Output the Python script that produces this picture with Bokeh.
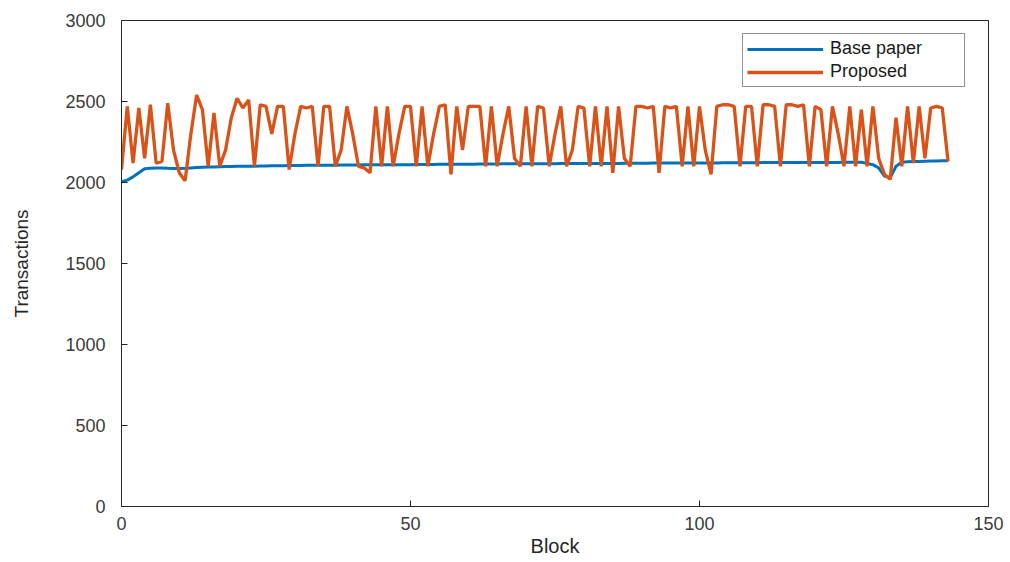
from bokeh.plotting import figure
from bokeh.models import Range1d, FixedTicker, Legend, LegendItem
from bokeh.embed import file_html
from bokeh.resources import INLINE

blocks = list(range(144))

base_paper = [
    2005, 2015, 2035, 2060, 2085, 2088, 2090, 2090, 2088, 2087,
    2087, 2088, 2090, 2092, 2094, 2095, 2096, 2097, 2098, 2099,
    2100, 2100, 2101, 2101, 2102, 2102, 2103, 2103, 2104, 2105,
    2105, 2105, 2106, 2106, 2106, 2107, 2107, 2107, 2108, 2108,
    2108, 2108, 2109, 2109, 2109, 2109, 2110, 2110, 2110, 2110,
    2110, 2111, 2111, 2111, 2111, 2112, 2112, 2112, 2113, 2113,
    2113, 2113, 2114, 2114, 2114, 2114, 2115, 2115, 2115, 2115,
    2115, 2116, 2116, 2116, 2116, 2116, 2117, 2117, 2117, 2117,
    2117, 2117, 2118, 2118, 2118, 2118, 2118, 2119, 2119, 2119,
    2119, 2119, 2120, 2120, 2120, 2120, 2120, 2120, 2121, 2121,
    2121, 2121, 2121, 2121, 2122, 2122, 2122, 2122, 2122, 2122,
    2122, 2123, 2123, 2123, 2123, 2123, 2123, 2123, 2124, 2124,
    2124, 2124, 2124, 2124, 2124, 2125, 2125, 2125, 2125, 2118,
    2110, 2090, 2040, 2030, 2100, 2125, 2128, 2129, 2130, 2131,
    2132, 2133, 2134, 2135,
]

proposed = [
    2080, 2470, 2120, 2460, 2150, 2480, 2120, 2130, 2490, 2200,
    2060, 2010, 2300, 2540, 2450, 2100, 2430, 2100, 2200, 2400,
    2520, 2460, 2510, 2100, 2480, 2470, 2300, 2470, 2470, 2080,
    2300, 2470, 2460, 2470, 2100, 2470, 2470, 2100, 2200, 2470,
    2300, 2100, 2090, 2060, 2470, 2100, 2470, 2100, 2300, 2470,
    2470, 2100, 2470, 2100, 2300, 2470, 2480, 2050, 2470, 2200,
    2470, 2470, 2470, 2100, 2470, 2100, 2300, 2470, 2150, 2100,
    2470, 2100, 2470, 2460, 2100, 2300, 2470, 2100, 2200, 2470,
    2460, 2100, 2470, 2100, 2470, 2060, 2470, 2150, 2100, 2470,
    2470, 2460, 2470, 2060, 2470, 2460, 2470, 2100, 2470, 2100,
    2470, 2200, 2050, 2470, 2480, 2480, 2470, 2100, 2470, 2470,
    2100, 2480, 2480, 2470, 2100, 2480, 2480, 2470, 2480, 2100,
    2470, 2450, 2100, 2470, 2300, 2100, 2470, 2100, 2450, 2100,
    2470, 2150, 2050, 2020, 2400, 2100, 2470, 2120, 2470, 2150,
    2460, 2470, 2460, 2130,
]

x_ticks = [0, 50, 100, 150]
y_ticks = [0, 500, 1000, 1500, 2000, 2500, 3000]

FONT = "Liberation Sans"
TICK_COLOR = "#3a3a3a"
AX_COLOR = "#262626"

p = figure(width=1010, height=562, output_backend="svg", toolbar_location=None,
           x_range=Range1d(0, 150), y_range=Range1d(0, 3000),
           min_border_left=121, min_border_right=22, min_border_top=20, min_border_bottom=56)
p.grid.visible = False
p.outline_line_color = AX_COLOR
p.outline_line_width = 1
p.background_fill_color = "white"
p.border_fill_color = "white"

for ax in (p.xaxis[0], p.yaxis[0]):
    ax.major_tick_in = 6
    ax.major_tick_out = 0
    ax.minor_tick_line_color = None
    ax.axis_line_color = AX_COLOR
    ax.major_tick_line_color = AX_COLOR
    ax.major_label_text_font = FONT
    ax.major_label_text_font_size = "18px"
    ax.major_label_text_color = TICK_COLOR
    ax.axis_label_text_font = FONT
    ax.axis_label_text_font_style = "normal"
    ax.axis_label_text_color = AX_COLOR

p.xaxis[0].ticker = FixedTicker(ticks=x_ticks)
p.yaxis[0].ticker = FixedTicker(ticks=y_ticks)
p.xaxis[0].axis_label = "Block"
p.xaxis[0].axis_label_text_font_size = "20px"
p.xaxis[0].major_label_standoff = 10
p.xaxis[0].axis_label_standoff = 2
p.yaxis[0].axis_label = "Transactions"
p.yaxis[0].axis_label_text_font_size = "19px"
p.yaxis[0].major_label_standoff = 16
p.yaxis[0].axis_label_standoff = 30

r_base = p.line(blocks, base_paper, line_color="#0072BD", line_width=3)
r_prop = p.line(blocks, proposed, line_color="#D95319", line_width=3.3)

legend = Legend(items=[LegendItem(label="Base paper", renderers=[r_base]),
                       LegendItem(label="Proposed", renderers=[r_prop])],
                location=(621, 419))
legend.label_text_font = FONT
legend.label_text_font_size = "18px"
legend.label_text_color = "#1a1a1a"
legend.glyph_width = 76
legend.glyph_height = 20
legend.label_height = 20
legend.label_width = 130
legend.label_standoff = 7
legend.spacing = 2
legend.padding = 4
legend.margin = 0
legend.border_line_color = AX_COLOR
legend.border_line_width = 1
legend.background_fill_color = "white"
legend.background_fill_alpha = 1.0
p.add_layout(legend, "center")

out = file_html(p, INLINE)
open("out.html", "w").write(out)
